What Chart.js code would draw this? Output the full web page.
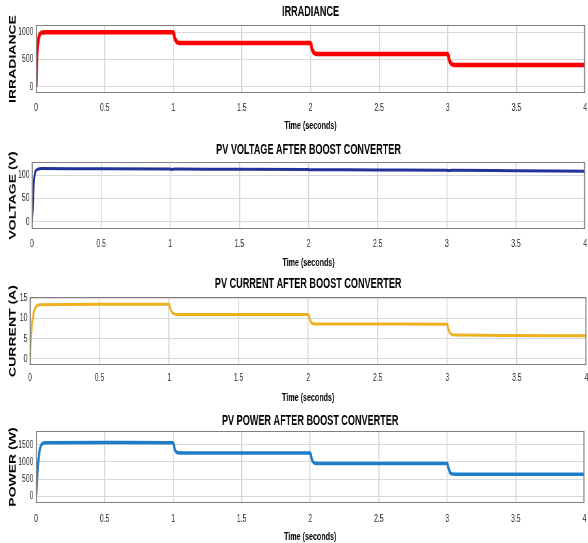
<!DOCTYPE html>
<html>
<head>
<meta charset="utf-8">
<script src="https://cdn.jsdelivr.net/npm/chart.js@4.4.1/dist/chart.umd.min.js"></script>
<style>
html, body { margin: 0; padding: 0; background: #fff; overflow: hidden; width: 588px; height: 543px; }
canvas { position: absolute; left: 0; transform: scaleX(0.65); transform-origin: 0 0; }
</style>
</head>
<body>
<canvas id="c1" width="912" height="135" style="top:0px"></canvas>
<canvas id="c2" width="912" height="132" style="top:138px"></canvas>
<canvas id="c3" width="912" height="134" style="top:272px"></canvas>
<canvas id="c4" width="912" height="134" style="top:410px"></canvas>
<script>
// time (s) and the four traces
var time        = [0, 0.005, 0.01, 0.02, 0.03, 0.045, 0.07, 0.5, 1.0, 1.01, 1.02, 1.035, 1.06, 1.5, 2.0, 2.01, 2.02, 2.035, 2.06, 2.5, 3.0, 3.01, 3.02, 3.035, 3.06, 3.5, 4.0];
var irradiance  = [0, 450, 700, 900, 970, 995, 1000, 1000, 1000, 900, 840, 808, 800, 800, 800, 700, 640, 608, 600, 600, 600, 500, 440, 408, 400, 400, 400];
var voltage     = [0, 30, 70, 103, 110, 113, 114, 113.5, 113, 112, 112.5, 112.8, 112.8, 112.4, 112, 111, 111.5, 111.6, 111.6, 111, 110.5, 109.5, 110, 110.2, 110.2, 109.3, 108.5];
var current     = [0, 4.5, 7, 10, 11.8, 13, 13.4, 13.5, 13.5, 12.3, 11.6, 11.15, 11, 11, 10.95, 9.9, 9.1, 8.7, 8.6, 8.6, 8.55, 7.2, 6.4, 6.0, 5.9, 5.8, 5.7];
var power       = [0, 350, 650, 1150, 1400, 1530, 1560, 1565, 1560, 1400, 1300, 1265, 1260, 1260, 1255, 1100, 1000, 960, 955, 955, 950, 800, 690, 650, 640, 638, 635];

// tick labels
var xTicks      = [0, 0.5, 1, 1.5, 2, 2.5, 3, 3.5, 4];
var irrTicks    = [0, 500, 1000];
var voltTicks   = [0, 50, 100];
var currTicks   = [0, 5, 10, 15];
var powTicks    = [0, 500, 1000, 1500];

var titles  = ['IRRADIANCE', 'PV VOLTAGE AFTER BOOST CONVERTER', 'PV CURRENT AFTER BOOST CONVERTER', 'PV POWER AFTER BOOST CONVERTER'];
var yTitles = ['IRRADIANCE', 'VOLTAGE (V)', 'CURRENT (A)', 'POWER (W)'];
var xTitle  = 'Time (seconds)';

var SQ = 0.65; // horizontal squeeze of the figure

function points(vals) {
	var out = [];
	for (var i in time) {
		out.push({x: time[i], y: vals[i]});
	}
	return out;
}

function tickList(vals) {
	return function(s) {
		s.ticks = vals.map(function(v) { return {value: v}; });
	};
}

var boxPlugin = {
	id: 'box',
	afterDatasetsDraw: function(chart) {
		var a = chart.chartArea, ctx = chart.ctx;
		ctx.save();
		ctx.strokeStyle = '#7f7f7f';
		ctx.lineWidth = 1;
		ctx.beginPath();
		ctx.moveTo(a.left, a.top + 0.5); ctx.lineTo(a.right, a.top + 0.5);
		ctx.moveTo(a.left, a.bottom - 0.5); ctx.lineTo(a.right, a.bottom - 0.5);
		ctx.stroke();
		ctx.lineWidth = 1.6;
		ctx.beginPath();
		ctx.moveTo(a.left + 0.8, a.top); ctx.lineTo(a.left + 0.8, a.bottom);
		ctx.moveTo(a.right - 0.8, a.top); ctx.lineTo(a.right - 0.8, a.bottom);
		ctx.stroke();
		ctx.restore();
	}
};

function makeChart(id, p) {
	var ctx = document.getElementById(id);
	return new Chart(ctx, {
		type: 'line',
		data: {
			datasets: [{
				data: points(p.values),
				borderColor: p.color,
				borderWidth: p.lineWidth,
				pointRadius: 0,
				fill: false,
				cubicInterpolationMode: 'monotone'
			}]
		},
		options: {
			responsive: false,
			animation: false,
			devicePixelRatio: 1,
			layout: { padding: { left: 0, right: 9, top: 0, bottom: 0 } },
			plugins: {
				legend: { display: false },
				tooltip: { enabled: false },
				title: {
					display: true,
					text: p.title,
					fullSize: false,
					color: '#000',
					font: { family: 'Liberation Sans', size: 14, weight: 'bold' },
					padding: p.titlePad
				}
			},
			scales: {
				x: {
					type: 'linear',
					min: 0,
					max: 4,
					afterBuildTicks: tickList(xTicks),
					afterFit: function(s) { s.height = p.xHeight; },
					border: { display: false },
					grid: { color: '#d4d4d4', lineWidth: 1.5, drawTicks: false },
					ticks: {
						autoSkip: false,
						maxRotation: 0,
						padding: p.tickPad,
						color: '#262626',
						font: { family: 'Liberation Sans', size: 10.5 },
						callback: function(v) { return String(v); }
					},
					title: {
						display: true,
						text: xTitle,
						color: '#000',
						font: { family: 'Liberation Sans', size: 11, weight: 'bold' },
						padding: { top: 0, bottom: p.timePad }
					}
				},
				y: {
					min: p.ymin,
					max: p.ymax,
					afterBuildTicks: tickList(p.yTicks),
					afterFit: function(s) { s.width = p.left / SQ; },
					border: { display: false },
					grid: { color: '#d9d9d9', lineWidth: 1, drawTicks: false },
					ticks: {
						autoSkip: false,
						padding: 4,
						color: '#262626',
						font: { family: 'Liberation Sans', size: 10.5 },
						callback: function(v) { return String(v); }
					},
					title: {
						display: true,
						text: p.ytitle,
						color: '#000',
						font: { family: 'Liberation Sans', size: 14, weight: 'bold' },
						padding: { top: 11.6, bottom: 0 }
					}
				}
			}
		},
		plugins: [boxPlugin]
	});
}

makeChart('c1', { title: titles[0], ytitle: yTitles[0], values: irradiance, yTicks: irrTicks, color: '#ff0000', lineWidth: 4.5,
	ymin: -110, ymax: 1130, left: 36, titlePad: {top: 3.6, bottom: 4.6}, xHeight: 42, tickPad: 9, timePad: 2.4 });
makeChart('c2', { title: titles[1], ytitle: yTitles[1], values: voltage, yTicks: voltTicks, color: '#22339a', lineWidth: 3,
	ymin: -15, ymax: 128, left: 32, titlePad: {top: 3.6, bottom: 3.6}, xHeight: 41, tickPad: 9, timePad: 0.4 });
makeChart('c3', { title: titles[2], ytitle: yTitles[2], values: current, yTicks: currTicks, color: '#edb120', lineWidth: 3,
	ymin: -1.5, ymax: 15.3, left: 30, titlePad: {top: 3.6, bottom: 4.6}, xHeight: 41, tickPad: 7, timePad: 1.4 });
makeChart('c4', { title: titles[3], ytitle: yTitles[3], values: power, yTicks: powTicks, color: '#1f7cc7', lineWidth: 3.5,
	ymin: -200, ymax: 1900, left: 36, titlePad: {top: 2.6, bottom: 1.6}, xHeight: 41, tickPad: 10, timePad: 0.4 });
</script>
</body>
</html>
